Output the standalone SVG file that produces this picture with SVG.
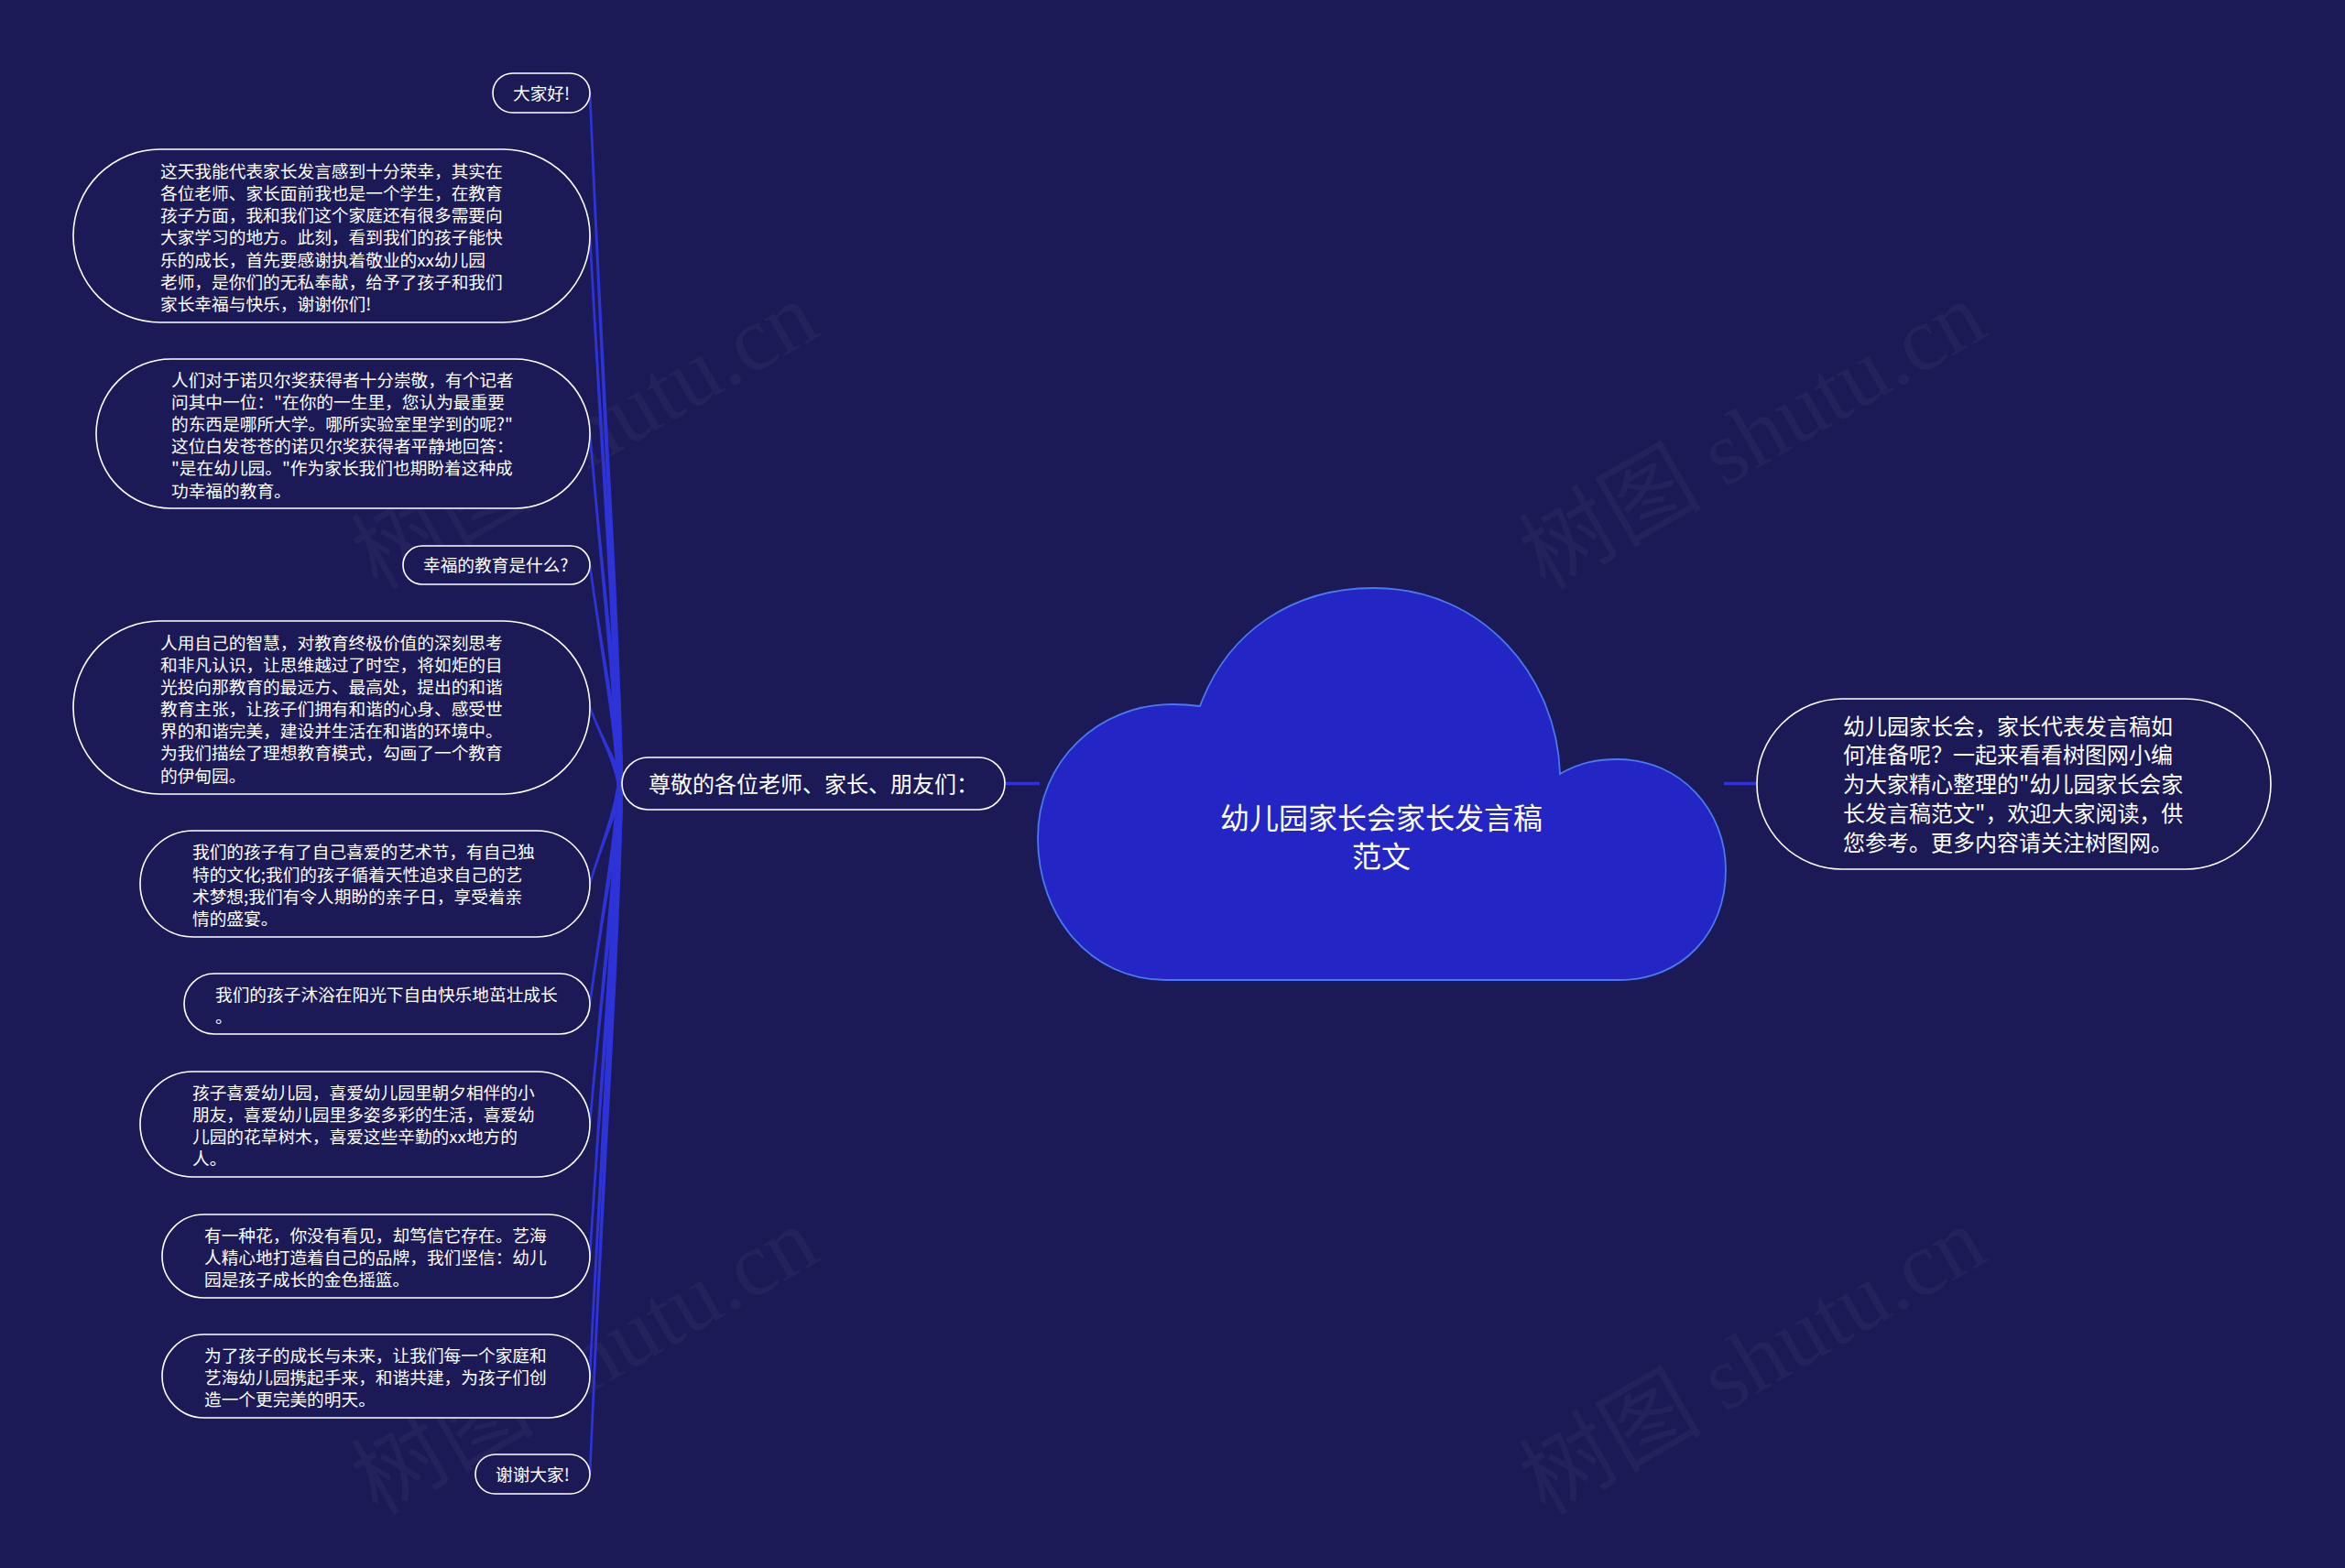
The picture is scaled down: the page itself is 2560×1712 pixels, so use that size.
<svg xmlns="http://www.w3.org/2000/svg" width="2560" height="1712" viewBox="0 0 2560 1712">
<style>
.bg{fill:#1b1a57}
.box{fill:#1b1a57;stroke:#ffffff;stroke-width:1.6}
.t{font-family:"Noto Sans CJK SC","Liberation Sans",sans-serif;fill:#ffffff}
.s{font-size:18.7px}
.m{font-size:24px}
.title{font-size:32px}
.conn{fill:#2e33d8;stroke:none}
.line{stroke:#2e33d8;stroke-width:3.5;fill:none}
.wm{font-family:"Liberation Serif","Noto Sans CJK SC",serif;font-size:100px;fill:#ffffff;fill-opacity:0.035}
</style>
<rect class="bg" x="0" y="0" width="2560" height="1712"/>

<g id="watermarks">
<text class="wm" transform="translate(655,505) rotate(-30)" text-anchor="middle">树图 shutu.cn</text>
<text class="wm" transform="translate(1930,505) rotate(-30)" text-anchor="middle">树图 shutu.cn</text>
<text class="wm" transform="translate(655,1515) rotate(-30)" text-anchor="middle">树图 shutu.cn</text>
<text class="wm" transform="translate(1930,1515) rotate(-30)" text-anchor="middle">树图 shutu.cn</text>
</g>

<g id="connectors">
<path class="conn" d="M642.7,101.5 C659,478.75 669,629.65 673.5,856 L680.5,856 C675,629.65 662,478.75 645.3,101.5 Z"/>
<path class="conn" d="M642.7,257.5 C659,556.75 669,676.45 673.5,856 L680.5,856 C675,676.45 662,556.75 645.3,257.5 Z"/>
<path class="conn" d="M642.7,473.5 C659,664.75 669,741.25 673.5,856 L680.5,856 C675,741.25 662,664.75 645.3,473.5 Z"/>
<path class="conn" d="M642.7,617 C659,736.5 669,784.3 673.5,856 L680.5,856 C675,784.3 662,736.5 645.3,617 Z"/>
<path class="conn" d="M642.7,772.5 C659,814.25 669,830.95 673.5,856 L680.5,856 C675,830.95 662,814.25 645.3,772.5 Z"/>
<path class="conn" d="M642.7,965 C659,910.5 669,888.7 673.5,856 L680.5,856 C675,888.7 662,910.5 645.3,965 Z"/>
<path class="conn" d="M642.7,1096 C659,976 669,928 673.5,856 L680.5,856 C675,928 662,976 645.3,1096 Z"/>
<path class="conn" d="M642.7,1227.5 C659,1041.75 669,967.45 673.5,856 L680.5,856 C675,967.45 662,1041.75 645.3,1227.5 Z"/>
<path class="conn" d="M642.7,1371.5 C659,1113.75 669,1010.65 673.5,856 L680.5,856 C675,1010.65 662,1113.75 645.3,1371.5 Z"/>
<path class="conn" d="M642.7,1502.5 C659,1179.25 669,1049.95 673.5,856 L680.5,856 C675,1049.95 662,1179.25 645.3,1502.5 Z"/>
<path class="conn" d="M642.7,1609.5 C659,1232.75 669,1082.05 673.5,856 L680.5,856 C675,1082.05 662,1232.75 645.3,1609.5 Z"/>
<line class="line" x1="1097" y1="855.5" x2="1135" y2="855.5"/>
<line class="line" x1="1882" y1="855.5" x2="1918" y2="855.5"/>
</g>

<g id="root">
<path d="M1310,771 C1340,690 1410,642 1500,642 C1620,642 1700,740 1703,845 C1725,832 1745,829 1766,829 C1835,829 1884,885 1884,950 C1884,1020 1835,1070 1768,1070 L1273,1070 C1190,1070 1133,1000 1133,915 C1133,830 1200,769 1280,769 C1292,769 1302,770 1310,771 Z" fill="#2326c4" stroke="#4a78f0" stroke-width="1.8"/>
<text class="t title" x="1508" y="905.2" text-anchor="middle">幼儿园家长会家长发言稿</text>
<text class="t title" x="1508" y="947.2" text-anchor="middle">范文</text>
</g>

<g id="intro">
<rect class="box" x="1918" y="763" width="561" height="186" rx="93"/>
<text class="t m">
<tspan x="2012" y="801.7">幼儿园家长会，家长代表发言稿如</tspan>
<tspan x="2012" y="833.4">何准备呢？一起来看看树图网小编</tspan>
<tspan x="2012" y="865.1">为大家精心整理的"幼儿园家长会家</tspan>
<tspan x="2012" y="896.8">长发言稿范文"，欢迎大家阅读，供</tspan>
<tspan x="2012" y="928.5">您参考。更多内容请关注树图网。</tspan>
</text>
</g>

<g id="branch">
<rect class="box" x="679" y="827" width="418" height="57" rx="28.5"/>
<text class="t m" x="708" y="864.6">尊敬的各位老师、家长、朋友们：</text>
</g>

<g id="n1">
<rect class="box" x="538" y="80" width="106" height="43" rx="21.5"/>
<text class="t s" x="560" y="108.6">大家好!</text>
</g>

<g id="n2">
<rect class="box" x="80" y="163" width="564" height="189" rx="94.5"/>
<text class="t s">
<tspan x="175" y="193.8">这天我能代表家长发言感到十分荣幸，其实在</tspan>
<tspan x="175" y="218">各位老师、家长面前我也是一个学生，在教育</tspan>
<tspan x="175" y="242.1">孩子方面，我和我们这个家庭还有很多需要向</tspan>
<tspan x="175" y="266.3">大家学习的地方。此刻，看到我们的孩子能快</tspan>
<tspan x="175" y="290.5">乐的成长，首先要感谢执着敬业的xx幼儿园</tspan>
<tspan x="175" y="314.6">老师，是你们的无私奉献，给予了孩子和我们</tspan>
<tspan x="175" y="338.8">家长幸福与快乐，谢谢你们!</tspan>
</text>
</g>

<g id="n3">
<rect class="box" x="105" y="392" width="539" height="163" rx="81.5"/>
<text class="t s">
<tspan x="187" y="421.7">人们对于诺贝尔奖获得者十分崇敬，有个记者</tspan>
<tspan x="187" y="445.9">问其中一位："在你的一生里，您认为最重要</tspan>
<tspan x="187" y="470">的东西是哪所大学。哪所实验室里学到的呢?"</tspan>
<tspan x="187" y="494.2">这位白发苍苍的诺贝尔奖获得者平静地回答：</tspan>
<tspan x="187" y="518.4">"是在幼儿园。"作为家长我们也期盼着这种成</tspan>
<tspan x="187" y="542.5">功幸福的教育。</tspan>
</text>
</g>

<g id="n4">
<rect class="box" x="440" y="596" width="204" height="42" rx="21"/>
<text class="t s" x="462" y="624.1">幸福的教育是什么?</text>
</g>

<g id="n5">
<rect class="box" x="80" y="678" width="564" height="189" rx="94.5"/>
<text class="t s">
<tspan x="175" y="708.6">人用自己的智慧，对教育终极价值的深刻思考</tspan>
<tspan x="175" y="732.8">和非凡认识，让思维越过了时空，将如炬的目</tspan>
<tspan x="175" y="756.9">光投向那教育的最远方、最高处，提出的和谐</tspan>
<tspan x="175" y="781.1">教育主张，让孩子们拥有和谐的心身、感受世</tspan>
<tspan x="175" y="805.3">界的和谐完美，建设并生活在和谐的环境中。</tspan>
<tspan x="175" y="829.4">为我们描绘了理想教育模式，勾画了一个教育</tspan>
<tspan x="175" y="853.6">的伊甸园。</tspan>
</text>
</g>

<g id="n6">
<rect class="box" x="153" y="907" width="491" height="116" rx="58"/>
<text class="t s">
<tspan x="210" y="937.3">我们的孩子有了自己喜爱的艺术节，有自己独</tspan>
<tspan x="210" y="961.5">特的文化;我们的孩子循着天性追求自己的艺</tspan>
<tspan x="210" y="985.7">术梦想;我们有令人期盼的亲子日，享受着亲</tspan>
<tspan x="210" y="1009.9">情的盛宴。</tspan>
</text>
</g>

<g id="n7">
<rect class="box" x="201" y="1063" width="443" height="66" rx="33"/>
<text class="t s">
<tspan x="235" y="1092.5">我们的孩子沐浴在阳光下自由快乐地茁壮成长</tspan>
<tspan x="235" y="1116.7">。</tspan>
</text>
</g>

<g id="n8">
<rect class="box" x="153" y="1170" width="491" height="115" rx="57.5"/>
<text class="t s">
<tspan x="210" y="1199.8">孩子喜爱幼儿园，喜爱幼儿园里朝夕相伴的小</tspan>
<tspan x="210" y="1224">朋友，喜爱幼儿园里多姿多彩的生活，喜爱幼</tspan>
<tspan x="210" y="1248.2">儿园的花草树木，喜爱这些辛勤的xx地方的</tspan>
<tspan x="210" y="1272.4">人。</tspan>
</text>
</g>

<g id="n9">
<rect class="box" x="177" y="1326" width="467" height="91" rx="45.5"/>
<text class="t s">
<tspan x="223" y="1355.9">有一种花，你没有看见，却笃信它存在。艺海</tspan>
<tspan x="223" y="1380.1">人精心地打造着自己的品牌，我们坚信：幼儿</tspan>
<tspan x="223" y="1404.3">园是孩子成长的金色摇篮。</tspan>
</text>
</g>

<g id="n10">
<rect class="box" x="177" y="1457" width="467" height="91" rx="45.5"/>
<text class="t s">
<tspan x="223" y="1486.9">为了孩子的成长与未来，让我们每一个家庭和</tspan>
<tspan x="223" y="1511.1">艺海幼儿园携起手来，和谐共建，为孩子们创</tspan>
<tspan x="223" y="1535.3">造一个更完美的明天。</tspan>
</text>
</g>

<g id="n11">
<rect class="box" x="519" y="1588" width="125" height="43" rx="21.5"/>
<text class="t s" x="541" y="1616.6">谢谢大家!</text>
</g>
</svg>
